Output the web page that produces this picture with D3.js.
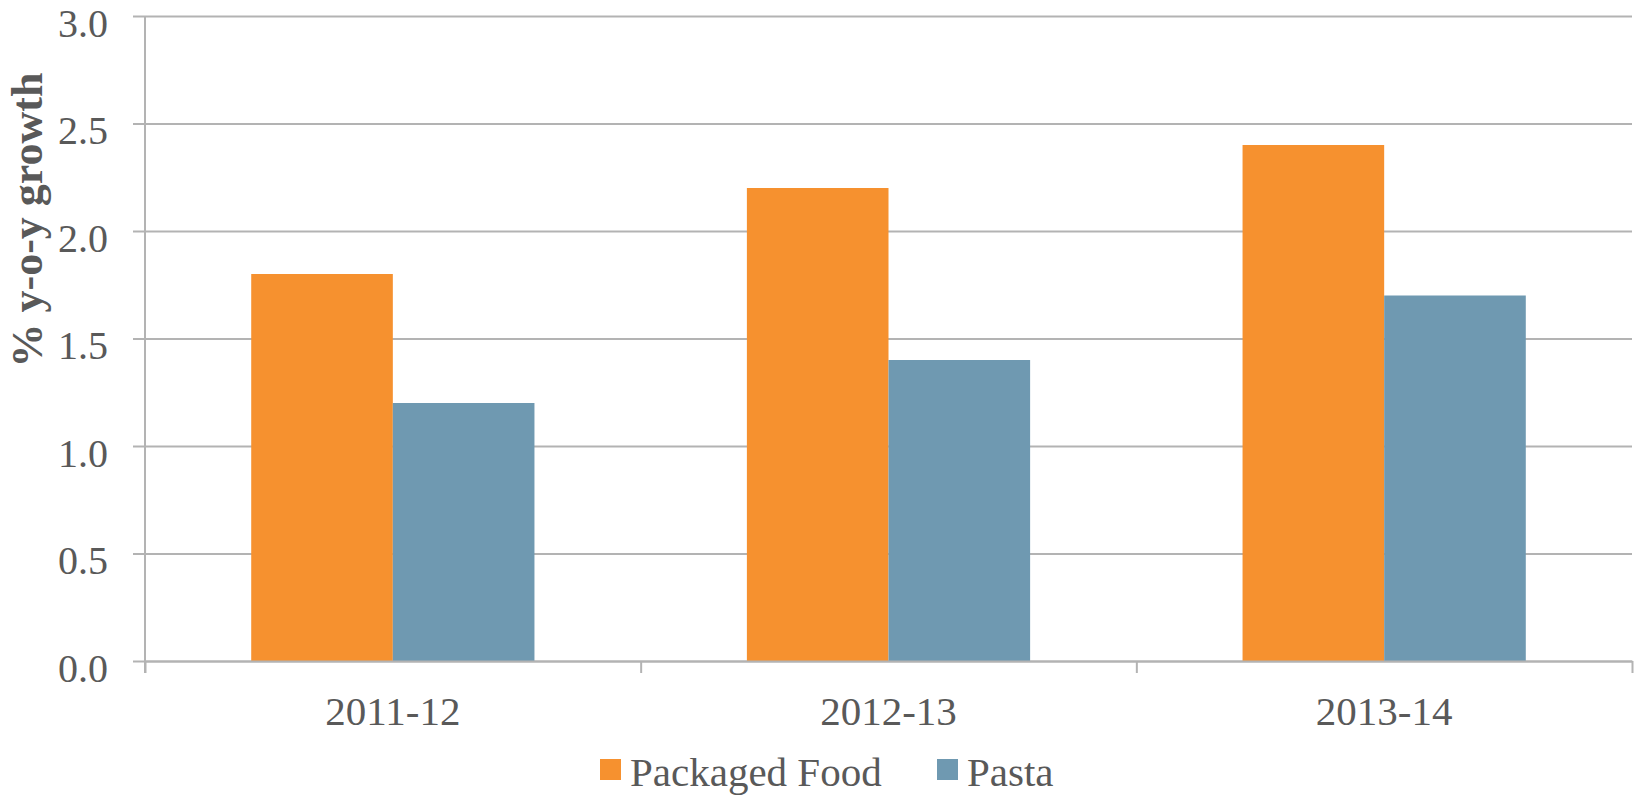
<!DOCTYPE html>
<html>
<head>
<meta charset="utf-8">
<script src="https://cdn.jsdelivr.net/npm/d3@7"></script>
<style>
  body { margin: 0; background: #fff; }
  svg text { font-family: Georgia, "Liberation Serif", serif; fill: #595959; }
</style>
</head>
<body>
<div id="chart"></div>
<script>
// data
const categories = ["2011-12", "2012-13", "2013-14"];
const seriesNames = ["Packaged Food", "Pasta"];
const packagedFood = [1.8, 2.2, 2.4];
const pasta = [1.2, 1.4, 1.7];
const yTicks = [0, 0.5, 1, 1.5, 2, 2.5, 3];

const colors = ["#f6912f", "#6f99b1"];

const margin = {top: 16, right: 2, bottom: 134, left: 145};
const W = 1634, H = 795;
const width = W - margin.left - margin.right;
const height = H - margin.top - margin.bottom;

const rows = categories.map(function(c, i) {
  return {cat: c, values: [packagedFood[i], pasta[i]]};
});

const svg = d3.select("#chart").append("svg")
  .attr("width", W)
  .attr("height", H);

const plot = svg.append("g")
  .attr("transform", "translate(" + margin.left + "," + margin.top + ")");

const y = d3.scaleLinear().domain([0, 3]).range([height, 0]);

const x0 = d3.scaleBand().domain(categories).range([0, width]).padding(0);
// gap width 150% -> each bar is band/3.5
const barW = x0.bandwidth() / 3.5;
const x1 = d3.scaleBand().domain(seriesNames)
  .range([barW * 0.75, x0.bandwidth() - barW * 0.75]).padding(0);

// edges of the categories, for the tick marks
const xEdge = d3.scaleLinear().domain([0, categories.length]).range([0, width]);

// grid + y axis
const yAxis = d3.axisLeft(y)
  .tickValues(yTicks)
  .tickFormat(d3.format(".1f"))
  .tickSize(-width)
  .tickSizeOuter(0)
  .tickPadding(37);

const gy = plot.append("g").attr("class", "axis axis-y").call(yAxis);
gy.select(".domain").remove();
gy.selectAll(".tick line")
  .attr("x1", -12)
  .attr("stroke", "#b3b3b3")
  .attr("stroke-width", 2);
gy.selectAll(".tick text")
  .style("font-size", "40px")
  .attr("dy", "0.5em");

// bars
const groups = plot.selectAll(".grp")
  .data(rows)
  .enter().append("g")
  .attr("class", "grp")
  .attr("transform", function(d) { return "translate(" + x0(d.cat) + ",0)"; });

groups.selectAll("rect")
  .data(function(d) { return d.values.map(function(v, i) { return {name: seriesNames[i], v: v, i: i}; }); })
  .enter().append("rect")
  .attr("x", function(d) { return x1(d.name); })
  .attr("y", function(d) { return y(d.v); })
  .attr("width", x1.bandwidth())
  .attr("height", function(d) { return height - y(d.v); })
  .style("fill", function(d) { return colors[d.i]; });

// vertical axis line
plot.append("line")
  .attr("x1", 0).attr("x2", 0)
  .attr("y1", y(3)).attr("y2", height + 12)
  .attr("stroke", "#b3b3b3")
  .attr("stroke-width", 2);

// x axis: edge ticks
const xAxisTicks = d3.axisBottom(xEdge)
  .ticks(categories.length)
  .tickFormat("")
  .tickSize(12)
  .tickSizeOuter(0);
const gx = plot.append("g").attr("class", "axis axis-x")
  .attr("transform", "translate(0," + height + ")")
  .call(xAxisTicks);
gx.select(".domain").attr("stroke", "#b3b3b3").attr("stroke-width", 2);
gx.selectAll(".tick line").attr("stroke", "#b3b3b3").attr("stroke-width", 2);

// x axis: category labels
const xAxisLabels = d3.axisBottom(x0).tickSize(0).tickPadding(0);
const gxl = plot.append("g")
  .attr("transform", "translate(0," + height + ")")
  .call(xAxisLabels);
gxl.select(".domain").remove();
gxl.selectAll(".tick text")
  .attr("y", 64)
  .attr("dy", 0)
  .style("font-size", "41px");

// y title
svg.append("text")
  .attr("transform", "translate(42,220) rotate(-90)")
  .style("text-anchor", "middle")
  .style("font-weight", "bold")
  .style("font-size", "44px")
  .text("% y-o-y growth");

// legend
const legend = svg.append("g").attr("class", "legend");
const legendX = [600, 937];
seriesNames.forEach(function(name, i) {
  const g = legend.append("g").attr("transform", "translate(" + legendX[i] + ",759)");
  g.append("rect")
    .attr("width", 21).attr("height", 21)
    .style("fill", colors[i]);
  g.append("text")
    .attr("x", 30).attr("y", 27)
    .style("font-size", "41px")
    .text(name);
});
</script>
</body>
</html>
